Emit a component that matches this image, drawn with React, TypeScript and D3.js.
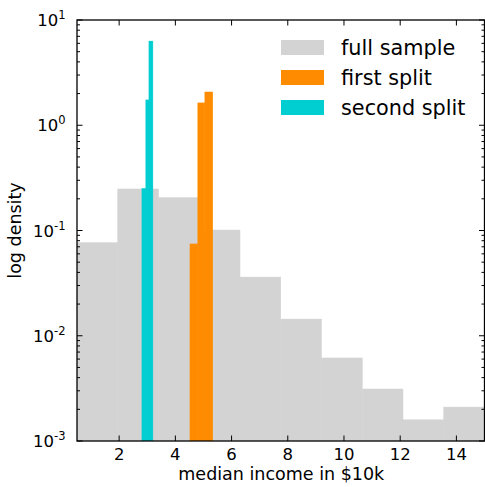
import React from "react";
import * as d3 from "d3";

// full sample histogram (10 equal bins, density)
const fullEdges = [0.4999, 1.95, 3.4, 4.85, 6.3, 7.75, 9.2, 10.65, 12.1, 13.55, 15.0001];
const fullDensity = [0.0766, 0.248, 0.205, 0.101, 0.0361, 0.0144, 0.00615, 0.00312, 0.00159, 0.0021];
// first split
const firstEdges = [4.52, 4.8, 5.05, 5.33];
const firstDensity = [0.0745, 1.63, 2.07];
// second split
const secondEdges = [2.81, 2.95, 3.06, 3.2];
const secondDensity = [0.25, 1.74, 6.3];

const xTicks = [2, 4, 6, 8, 10, 12, 14];
const yDecades = [-3, -2, -1, 0, 1];

const legendItems = [
  { label: "full sample", color: "#d3d3d3" },
  { label: "first split", color: "#ff8c00" },
  { label: "second split", color: "#00ced1" },
];

const W = 485;
const H = 487;
const L = 77;
const R = 484.5;
const T = 20;
const B = 441;
const FONT = "DejaVu Sans, sans-serif";

export default function App() {
  const x = d3.scaleLinear().domain([0.5, 15]).range([L, R]);
  const y = d3.scaleLog().domain([1e-3, 1e1]).range([B, T]);

  const bars = (edges: number[], vals: number[], color: string, key: string) =>
    vals.map((v, i) => (
      <rect
        key={key + i}
        x={x(edges[i])}
        width={x(edges[i + 1]) - x(edges[i])}
        y={y(v)}
        height={B - y(v)}
        fill={color}
        stroke={color}
        strokeWidth={0.5}
      />
    ));

  const minor: number[] = [];
  for (let e = -3; e < 1; e++) {
    for (let m = 2; m <= 9; m++) minor.push(m * Math.pow(10, e));
  }

  const majLen = 5.5;
  const minLen = 3;

  return (
    <svg
      width={W}
      height={H}
      style={{ position: "absolute", left: 0, top: 0, background: "#fff" }}
      fontFamily={FONT}
    >
      <defs>
        <clipPath id="plot">
          <rect x={L} y={T} width={R - L} height={B - T} />
        </clipPath>
      </defs>
      <g clipPath="url(#plot)">
        {bars(fullEdges, fullDensity, "#d3d3d3", "f")}
        {bars(firstEdges, firstDensity, "#ff8c00", "o")}
        {bars(secondEdges, secondDensity, "#00ced1", "c")}
      </g>

      {/* ticks */}
      <g stroke="#000" strokeWidth={1}>
        {xTicks.map((t) => (
          <g key={"xt" + t}>
            <line x1={x(t)} x2={x(t)} y1={B} y2={B - majLen} />
            <line x1={x(t)} x2={x(t)} y1={T} y2={T + majLen} />
          </g>
        ))}
        {yDecades.map((e) => (
          <g key={"yt" + e}>
            <line x1={L} x2={L + majLen} y1={y(Math.pow(10, e))} y2={y(Math.pow(10, e))} />
            <line x1={R} x2={R - majLen} y1={y(Math.pow(10, e))} y2={y(Math.pow(10, e))} />
          </g>
        ))}
        {minor.map((v, i) => (
          <g key={"ym" + i}>
            <line x1={L} x2={L + minLen} y1={y(v)} y2={y(v)} />
            <line x1={R} x2={R - minLen} y1={y(v)} y2={y(v)} />
          </g>
        ))}
      </g>

      {/* frame */}
      <rect x={L} y={T} width={R - L} height={B - T} fill="none" stroke="#000" strokeWidth={1.3} />

      {/* x tick labels */}
      {xTicks.map((t) => (
        <text key={"xl" + t} x={x(t)} y={B + 19} textAnchor="middle" fontSize={16.5} fill="#000">
          {t}
        </text>
      ))}

      {/* y tick labels */}
      {yDecades.map((e) => (
        <text
          key={"yl" + e}
          x={L - 11.5}
          y={y(Math.pow(10, e)) + 6}
          textAnchor="end"
          fontSize={16.5}
          fill="#000"
        >
          10
          <tspan fontSize={11.5} dy={-7}>
            {e < 0 ? "-" + Math.abs(e) : String(e)}
          </tspan>
        </text>
      ))}

      {/* axis labels */}
      <text x={(L + R) / 2 + 0.5} y={480} textAnchor="middle" fontSize={17.5} fill="#000">
        median income in $10k
      </text>
      <text
        transform={`translate(21,${(T + B) / 2}) rotate(-90)`}
        textAnchor="middle"
        fontSize={17.5}
        fill="#000"
      >
        log density
      </text>

      {/* legend */}
      {legendItems.map((d, i) => (
        <g key={d.label}>
          <rect x={281} y={40 + i * 30} width={43} height={15} fill={d.color} />
          <text x={341} y={55 + i * 30} fontSize={20.8} fill="#000">
            {d.label}
          </text>
        </g>
      ))}
    </svg>
  );
}
